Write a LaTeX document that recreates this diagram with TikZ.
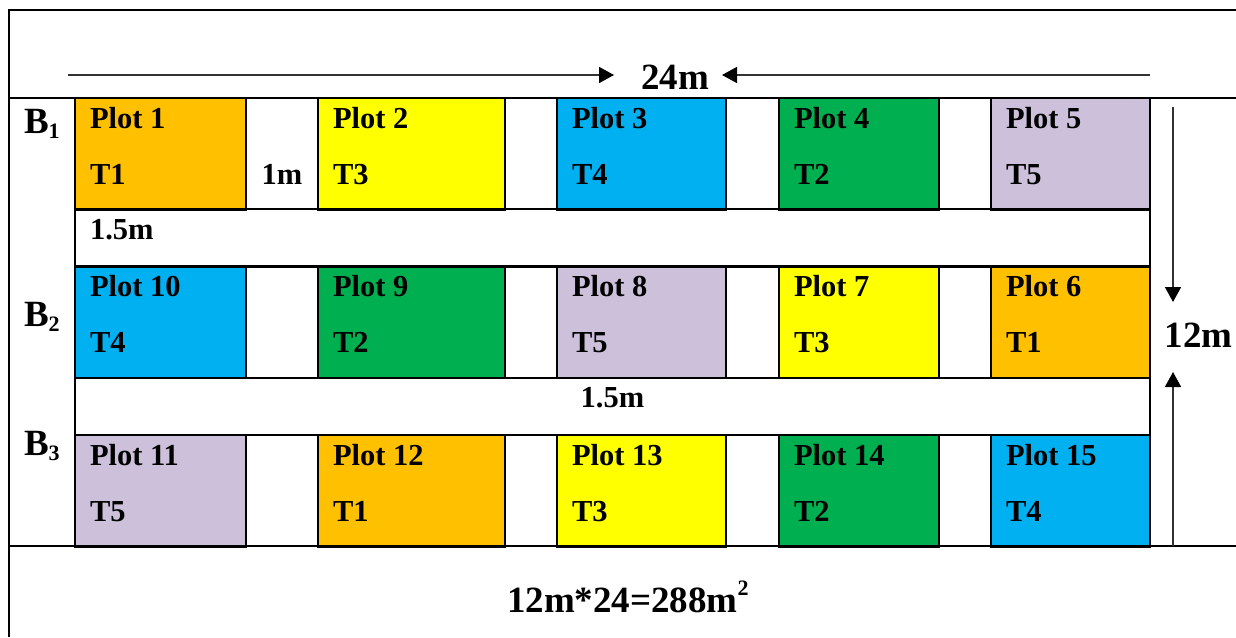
\documentclass[tikz,border=0pt]{standalone}
\usepackage{fontspec}
\setmainfont{Liberation Serif}
\usetikzlibrary{arrows.meta}

% treatment colours
\definecolor{trtOne}{HTML}{FFC000}
\definecolor{trtTwo}{HTML}{00B050}
\definecolor{trtThree}{HTML}{FFFF00}
\definecolor{trtFour}{HTML}{00B0F0}
\definecolor{trtFive}{HTML}{CCC0DA}

% lowered / raised small figures in the bold labels
\newcommand\lowfig[1]{\raisebox{-5pt}{\fontsize{22}{22}\selectfont #1}}
\newcommand\highfig[1]{\raisebox{17pt}{\fontsize{22}{22}\selectfont #1}}

% one plot: name, left x, right x, top y, colour, plot number, treatment
\newcommand\plotcell[7]{%
  \node[plotbox, fill=#5, minimum width={(#3-#2)*1pt}] (#1) at (#2,#4) {};
  \node[txt, anchor=base west] (#1-no) at ([xshift=15pt,yshift=-30pt]#1.north west) {Plot #6};
  \node[txt, anchor=base west] (#1-tr) at ([xshift=15pt,yshift=-86pt]#1.north west) {#7};
}

\begin{document}
\begin{tikzpicture}[x=1pt,y=-1pt,
  grid/.style={line width=2.6pt, black},
  plotbox/.style={draw=black, line width=2.6pt, inner sep=0pt, outer sep=0pt,
                  minimum height=111.5pt, anchor=north west},
  txt/.style={font=\fontsize{30.5}{36}\selectfont\bfseries, inner sep=0pt, outer sep=0pt},
  big/.style={font=\fontsize{37}{44}\selectfont\bfseries, inner sep=0pt, outer sep=0pt},
  dimline/.style={line width=1.6pt, draw=black!80,
                  -{Triangle[length=15pt,width=16pt,color=black]}}]

\useasboundingbox (0,0) rectangle (1236,637);
\clip (0,0) rectangle (1236,637);

% block B1
\plotcell{p1}{75}{246}{98}{trtOne}{1}{T1}
\plotcell{p2}{318}{505}{98}{trtThree}{2}{T3}
\plotcell{p3}{557}{726}{98}{trtFour}{3}{T4}
\plotcell{p4}{779}{939}{98}{trtTwo}{4}{T2}
\plotcell{p5}{991}{1150}{98}{trtFive}{5}{T5}
% block B2
\plotcell{p10}{75}{246}{266.5}{trtFour}{10}{T4}
\plotcell{p9}{318}{505}{266.5}{trtTwo}{9}{T2}
\plotcell{p8}{557}{726}{266.5}{trtFive}{8}{T5}
\plotcell{p7}{779}{939}{266.5}{trtThree}{7}{T3}
\plotcell{p6}{991}{1150}{266.5}{trtOne}{6}{T1}
% block B3
\plotcell{p11}{75}{246}{435}{trtFive}{11}{T5}
\plotcell{p12}{318}{505}{435}{trtOne}{12}{T1}
\plotcell{p13}{557}{726}{435}{trtThree}{13}{T3}
\plotcell{p14}{779}{939}{435}{trtTwo}{14}{T2}
\plotcell{p15}{991}{1150}{435}{trtFour}{15}{T4}

% table rules
\draw[grid] (9,637) -- (9,10) -- (1236,10);
\draw[grid] (9,98) -- (1236,98);
\draw[grid] (9,546) -- (1236,546);
\draw[grid] (75,98) -- (75,546);
\draw[grid] (1150,98) -- (1150,546);
\foreach \yy in {209,266.5,378,435} \draw[grid] (75,\yy) -- (1150,\yy);

% block labels
\node[big, anchor=base west] (b1) at (24,133) {B\lowfig{1}};
\node[big, anchor=base west] (b2) at (24,326) {B\lowfig{2}};
\node[big, anchor=base west] (b3) at (24,455) {B\lowfig{3}};

% spacing labels
\node[txt, anchor=base] (gapcol) at (282,184) {1m};
\node[txt, anchor=base west] (gaprowa) at (90,239) {1.5m};
\node[txt, anchor=base] (gaprowb) at (612.5,407) {1.5m};

% overall width
\node[big, anchor=base] (width) at (675,89) {24m};
\coordinate (wl0) at (68,75);
\coordinate (wl1) at (614,75);
\coordinate (wr0) at (1150,75);
\coordinate (wr1) at (722,75);
\draw[dimline] (wl0) -- (wl1);
\draw[dimline] (wr0) -- (wr1);

% overall length
\node[big, anchor=base] (length) at (1198.5,347) {12m};
\coordinate (lt0) at (1173,107);
\coordinate (lt1) at (1173,302);
\coordinate (lb0) at (1173,546);
\coordinate (lb1) at (1173,372);
\draw[dimline] (lt0) -- (lt1);
\draw[dimline] (lb0) -- (lb1);

% area
\node[big, anchor=base west] (area) at (507,612) {12m*24=288m\highfig{2}};

\end{tikzpicture}
\end{document}
